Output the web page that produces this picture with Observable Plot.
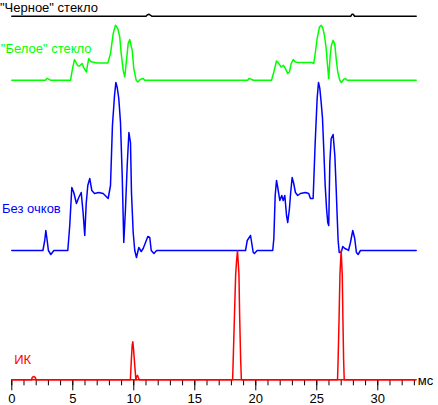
<!DOCTYPE html>
<html>
<head>
<meta charset="utf-8">
<script src="https://cdn.jsdelivr.net/npm/d3@7"></script>
<script src="https://cdn.jsdelivr.net/npm/@observablehq/plot@0.6"></script>
<style>
  html, body { margin: 0; padding: 0; background: #fff; }
  svg { display: block; }
</style>
</head>
<body>
<script>
// ---- data: [time in ms, signal amplitude] ----
const blackGlass = [[0,0],[11.0,0],[11.12,1.5],[11.26,2],[11.38,1],[11.5,0],[27.78,0],[27.88,2],[27.98,2],[28.1,0],[33.15,0]];

const whiteGlass = [[0,0],[2.75,0],[2.9,2],[3.05,1],[3.2,0],[4.81,0],[4.98,12],[5.14,20.7],[5.30,17],[5.42,14.5],[5.55,14.3],[5.77,16.7],[5.88,13],[6.12,8.3],[6.20,15],[6.31,21.7],[6.45,19],[6.59,18.3],[7.0,17.3],[7.87,17.3],[8.09,26.7],[8.31,46.7],[8.50,55],[8.69,51.7],[8.85,43.3],[8.97,26.7],[9.13,10],[9.26,3.3],[9.40,20],[9.54,36.7],[9.67,40.7],[9.87,30],[10.0,11.7],[10.20,0],[10.33,-1.7],[10.55,1],[10.77,1.7],[10.90,0],
  [19.34,0],[19.47,2],[19.62,1],[19.8,0],[21.29,0],[21.48,8.3],[21.70,19.3],[21.89,16.7],[22.08,13.3],[22.27,15],[22.43,11.7],[22.62,6.7],[22.76,8.3],[22.90,16.7],[23.07,20.7],[23.25,18.3],[23.52,17.7],[24.62,17.7],[24.75,16.7],[24.89,28.3],[25.03,41.7],[25.22,53.3],[25.36,55],[25.49,52.3],[25.63,45],[25.77,31.7],[25.88,15],[25.98,1.7],[26.10,25],[26.20,35],[26.34,40],[26.48,35.7],[26.59,21.7],[26.72,8.3],[26.89,0],[27.02,-2.3],[27.21,1],[27.35,1.7],[27.49,0],[33.15,0]];

const noGlasses = [[0,0],[2.55,0],[2.7,10],[2.79,20],[2.9,10],[3.0,0],[3.2,-4],[3.45,0],[4.59,0],[4.75,25],[4.92,63],[5.08,58],[5.3,47],[5.49,53],[5.69,58],[5.85,37],[5.98,15],[6.1,47],[6.23,65],[6.39,72],[6.56,60],[6.78,57],[7.13,58],[7.49,57],[7.9,52],[8.09,65],[8.25,125],[8.42,155],[8.53,168],[8.64,163],[8.77,152],[8.91,128],[9.05,75],[9.18,8],[9.32,42],[9.46,85],[9.6,118],[9.73,108],[9.81,58],[9.95,18],[10.08,0],[10.22,-7],[10.41,3],[10.61,-1],[10.77,2],[10.96,8],[11.15,14],[11.31,13],[11.43,0],[11.65,-3],[11.87,0],
  [19.16,0],[19.30,10],[19.57,15],[19.79,-2],[19.89,-3],[20.11,0],[21.39,0],[21.48,12],[21.59,55],[21.70,70],[21.80,63],[21.97,50],[22.13,55],[22.25,50],[22.38,55],[22.52,35],[22.62,28],[22.76,42],[22.84,55],[22.98,73],[23.11,67],[23.25,58],[23.44,55],[23.66,57],[24.07,58],[24.34,57],[24.48,52],[24.70,52],[24.75,68],[24.87,108],[25.03,152],[25.14,168],[25.25,162],[25.36,148],[25.47,132],[25.57,102],[25.69,65],[25.80,42],[25.90,28],[25.98,25],[26.07,88],[26.18,112],[26.34,116],[26.48,95],[26.59,62],[26.67,35],[26.75,10],[26.84,-2],[27.00,-2],[27.13,4],[27.30,2],[27.49,1],[27.6,0],[27.76,8],[27.95,20],[28.11,12],[28.25,-2],[28.39,-4],[28.58,0],[33.15,0]];

const infrared = [[0,0],[1.62,0],[1.68,2.5],[1.8,3.3],[1.92,2.5],[1.98,0],[9.72,0],[9.8,20],[9.87,35],[9.92,38],[9.97,32],[10.05,19],[10.12,8],[10.17,0],[10.22,3],[10.3,4.5],[10.38,2],[10.45,0],[18.1,0],[18.15,20],[18.25,63],[18.35,105],[18.42,118],[18.5,129],[18.56,118],[18.62,105],[18.68,63],[18.76,20],[18.82,0],[26.7,0],[26.75,20],[26.83,63],[26.9,105],[26.95,118],[27.0,129],[27.04,118],[27.09,105],[27.14,63],[27.2,20],[27.25,0],[33.15,0]];

const seriesNames = ['"Черное" стекло', '"Белое" стекло', 'Без очков', 'ИК'];
const majorTicks = [0, 5, 10, 15, 20, 25, 30];
const minorTicks = d3.range(0, 34, 1);
const unitLabel = "мс";

// ---- layout (trace baselines stacked on one vertical scale) ----
const XMAX = 33.15;
const series = [
  {name: seriesNames[0], data: blackGlass, base: 363.5, color: "#000000", label: {x: -0.97, dy: 8.6}},
  {name: seriesNames[1], data: whiteGlass, base: 299.5, color: "#00ff00", label: {x: -0.9, dy: 31.7}},
  {name: seriesNames[2], data: noGlasses, base: 129.3, color: "#0000ff", label: {x: -0.8, dy: 41.6}},
  {name: seriesNames[3], data: infrared, base: 0, color: "#ff0000", label: {x: 0.2, dy: 20.0}}
];

const marks = [];
marks.push(Plot.axisX({ticks: minorTicks, tickSize: 6, text: null, stroke: "#000"}));
marks.push(Plot.axisX({ticks: majorTicks, tickSize: 11, tickPadding: 2.5, stroke: "#000", fill: "#000", tickFormat: d => String(d)}));
marks.push(Plot.ruleY([0], {x1: 0, x2: XMAX, stroke: "#ff0000", strokeWidth: 1.5}));
for (const s of series) {
  marks.push(Plot.line(s.data, {x: d => d[0], y: d => d[1] + s.base, stroke: s.color, strokeWidth: 1.5, curve: "linear"}));
  marks.push(Plot.text([s.name], {x: s.label.x, y: s.base + s.label.dy, text: d => d, textAnchor: "start", fill: s.color}));
}
marks.push(Plot.text([unitLabel], {x: 33.28, y: -0.8, text: d => d, textAnchor: "start", fill: "#000"}));

const chart = Plot.plot({
  width: 438,
  height: 405,
  marginLeft: 11.3,
  marginRight: 22.3,
  marginTop: 0,
  marginBottom: 25.7,
  x: {domain: [0, XMAX], axis: null},
  y: {domain: [0, 379.3], axis: null},
  style: {fontFamily: "'Liberation Sans', Arial, sans-serif", fontSize: "13px", background: "#fff", overflow: "visible"},
  marks
});
document.body.appendChild(chart);
</script>
</body>
</html>
